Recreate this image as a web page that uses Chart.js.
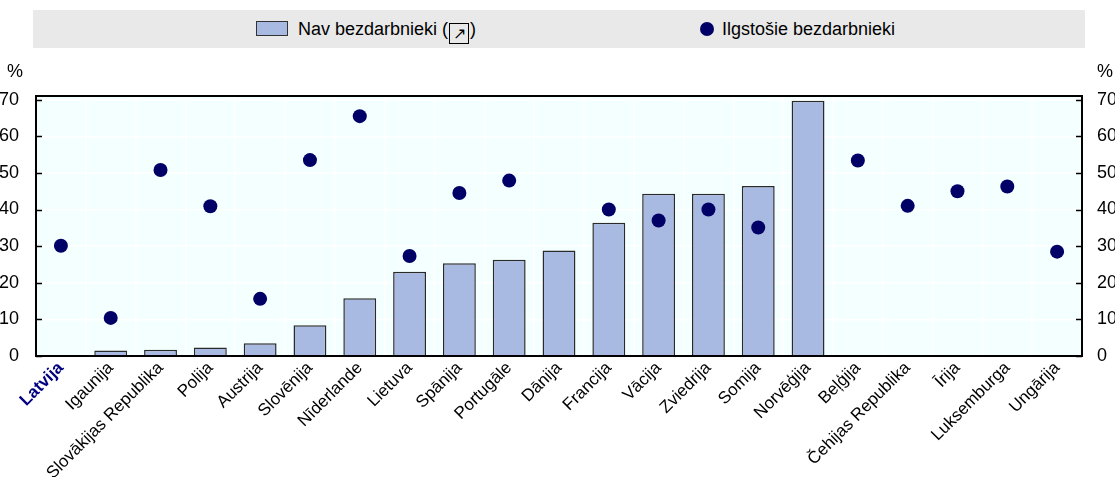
<!DOCTYPE html>
<html>
<head>
<meta charset="utf-8">
<script src="https://cdn.jsdelivr.net/npm/chart.js@4"></script>
<style>
    body { margin: 0; background: #fff; font-family: "Liberation Sans", Arial, sans-serif; }
    #wrap { position: relative; width: 1115px; height: 477px; }
    #legend { position: absolute; left: 33px; top: 10px; width: 1052px; height: 38px; background: #e9e9e9; font-size: 18px; color: #000; }
    .item { position: absolute; top: 9px; line-height: 20px; white-space: nowrap; }
    .swatch { position: absolute; left: 223px; top: 11px; width: 32px; height: 15px; background: #a8b9e2; border: 1px solid #333; box-sizing: border-box; }
    .dot { position: absolute; left: 667px; top: 12px; width: 14px; height: 14px; border-radius: 50%; background: #000066; }
    .arrow { display: inline-block; border: 1.5px solid #000; width: 18px; height: 19px; line-height: 19px; text-align: center; font-size: 16px; vertical-align: -4px; margin: 0 1px; }
</style>
</head>
<body>
<div id="wrap">
    <canvas id="chart" width="1115" height="477"></canvas>
    <div id="legend">
        <div class="swatch"></div>
        <div class="item" style="left:265px">Nav bezdarbnieki (<span class="arrow">&#8599;</span>)</div>
        <div class="dot"></div>
        <div class="item" style="left:689px">Ilgstošie bezdarbnieki</div>
    </div>
</div>
<script>
    // Categories (countries) and both series
    const countries = ['Latvija', 'Igaunija', 'Slovākijas Republika', 'Polija', 'Austrija', 'Slovēnija',
        'Nīderlande', 'Lietuva', 'Spānija', 'Portugāle', 'Dānija', 'Francija', 'Vācija', 'Zviedrija',
        'Somija', 'Norvēģija', 'Beļģija', 'Čehijas Republika', 'Īrija', 'Luksemburga', 'Ungārija'];
    const navBezdarbnieki = [0.3, 1.5, 1.7, 2.3, 3.5, 8.4, 15.8, 23.0, 25.3, 26.3, 28.8, 36.4, 44.3, 44.3,
        46.4, 69.7, null, null, null, null, null];
    const ilgstosie = [30.1, 10.4, 50.8, 40.9, 15.6, 53.5, 65.5, 27.3, 44.5, 47.9, null, 40.0, 37.0, 40.0,
        35.1, null, 53.4, 41.0, 45.0, 46.3, 28.5];
    const yTicks = [0, 10, 20, 30, 40, 50, 60, 70];

    const fontFamily = '"Liberation Sans", Arial, sans-serif';

    // Plot background, frame, inside tick marks and the "%" labels
    const decor = {
        id: 'decor',
        beforeDraw(chart) {
            const { ctx, chartArea: a } = chart;
            ctx.save();
            ctx.fillStyle = '#f4ffff';
            ctx.fillRect(a.left, a.top, a.right - a.left, a.bottom - a.top);
            ctx.restore();
        },
        afterDatasetsDraw(chart) {
            const { ctx, chartArea: a, scales } = chart;
            ctx.save();
            ctx.strokeStyle = '#000';
            ctx.lineWidth = 2;
            ctx.strokeRect(a.left, a.top, a.right - a.left, a.bottom - a.top);
            ctx.lineWidth = 1.5;
            yTicks.forEach(v => {
                const y = Math.round(scales.y.getPixelForValue(v)) + 0.5;
                ctx.beginPath();
                ctx.moveTo(a.left, y); ctx.lineTo(a.left + 6, y);
                ctx.moveTo(a.right, y); ctx.lineTo(a.right - 6, y);
                ctx.stroke();
            });
            ctx.fillStyle = '#000';
            ctx.font = '18px ' + fontFamily;
            ctx.textBaseline = 'middle';
            ctx.textAlign = 'center';
            ctx.fillText('%', 15, 72);
            ctx.fillText('%', 1105, 72);
            ctx.restore();
        }
    };

    const ctx = document.getElementById('chart').getContext('2d');
    new Chart(ctx, {
        data: {
            labels: countries,
            datasets: [{
                type: 'line',
                label: 'Ilgstošie bezdarbnieki',
                data: ilgstosie,
                showLine: false,
                pointRadius: 7,
                pointHoverRadius: 7,
                pointBackgroundColor: '#000066',
                pointBorderColor: '#000066',
                pointBorderWidth: 0,
                yAxisID: 'y'
            }, {
                type: 'bar',
                label: 'Nav bezdarbnieki',
                data: navBezdarbnieki,
                backgroundColor: '#a8b9e2',
                borderColor: '#2a2a2a',
                borderWidth: 1.5,
                barPercentage: 0.66,
                categoryPercentage: 1,
                yAxisID: 'y'
            }]
        },
        options: {
            responsive: false,
            animation: false,
            layout: { padding: { top: 96, left: 0, right: 0, bottom: 0 } },
            plugins: { legend: { display: false }, tooltip: { enabled: false } },
            scales: {
                x: {
                    grid: { color: '#ffffff', lineWidth: 1.5, drawTicks: false, offset: true },
                    border: { display: false },
                    afterFit(scale) { scale.height = 121; },
                    ticks: {
                        autoSkip: false,
                        minRotation: 45,
                        maxRotation: 45,
                        padding: 2,
                        color: c => c.index === 0 ? '#000080' : '#000',
                        font: c => ({ family: fontFamily, size: 17, weight: c.index === 0 ? 'bold' : 'normal' })
                    }
                },
                y: {
                    position: 'left',
                    min: 0, max: 71,
                    afterFit(scale) { scale.width = 36; },
                    afterBuildTicks(scale) { scale.ticks = yTicks.map(v => ({ value: v })); },
                    grid: { color: '#ffffff', lineWidth: 1.5, drawTicks: false },
                    border: { display: false },
                    ticks: { padding: 17, color: '#000', font: { family: fontFamily, size: 18 } }
                },
                y2: {
                    position: 'right',
                    min: 0, max: 71,
                    afterFit(scale) { scale.width = 33; },
                    afterBuildTicks(scale) { scale.ticks = yTicks.map(v => ({ value: v })); },
                    grid: { display: false, drawTicks: false },
                    border: { display: false },
                    ticks: { padding: 15, color: '#000', font: { family: fontFamily, size: 18 } }
                }
            }
        },
        plugins: [decor]
    });
</script>
</body>
</html>
